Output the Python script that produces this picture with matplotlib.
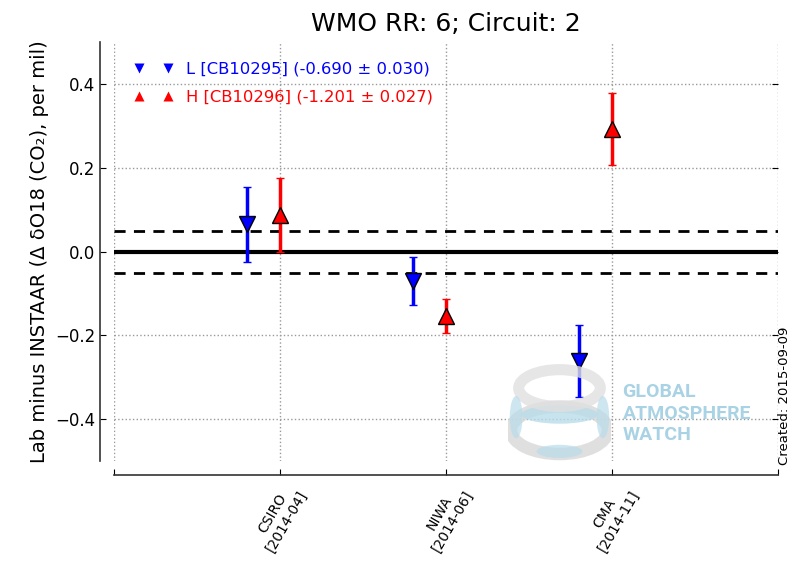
import numpy as np
import matplotlib
matplotlib.use('Agg')
import matplotlib.pyplot as plt
from matplotlib.patches import Ellipse

# lab comparison results, difference to INSTAAR (per mil)
labs = ['CSIRO\n[2014-04]', 'NIWA\n[2014-06]', 'CMA\n[2014-11]']
low_val = [0.065, -0.070, -0.260]
low_err = [0.090, 0.058, 0.086]
high_val = [0.087, -0.153, 0.293]
high_err = [0.088, 0.040, 0.085]
low_label = 'L [CB10295] (-0.690 ± 0.030)'
high_label = 'H [CB10296] (-1.201 ± 0.027)'
limit = 0.05

xpos = np.arange(1, len(labs) + 1)
xl = xpos - 0.2
xh = xpos

fig = plt.figure(figsize=(7.97, 5.70), dpi=100)
ax = fig.add_axes([0.143, 0.191, 0.833, 0.735])

ax.axhline(0, color='k', lw=3, zorder=2)
ax.axhline(limit, color='k', lw=2, ls='--', dashes=(4, 3), zorder=2)
ax.axhline(-limit, color='k', lw=2, ls='--', dashes=(4, 3), zorder=2)

ax.errorbar(xl, low_val, yerr=low_err, fmt='none', ecolor='blue', elinewidth=2.5,
            capsize=3, capthick=1, zorder=3)
ax.errorbar(xh, high_val, yerr=high_err, fmt='none', ecolor='red', elinewidth=2.5,
            capsize=3, capthick=1, zorder=3)
ax.plot(xl, low_val, 'v', color='blue', mec='k', ms=11, mew=1, ls='none',
        label=low_label, zorder=4)
ax.plot(xh, high_val, '^', color='red', mec='k', ms=11, mew=1, ls='none',
        label=high_label, zorder=4)

leg = ax.legend(loc='upper left', numpoints=2, frameon=False, fontsize=11.8,
                markerscale=0.7, handlelength=2.4, handletextpad=0.8,
                labelspacing=0.8, borderaxespad=0.7, borderpad=0.5)
for t, c in zip(leg.get_texts(), ['blue', 'red']):
    t.set_color(c)
for h in leg.legend_handles:
    h.set_markeredgecolor('none')

ax.spines['top'].set_visible(False)
ax.spines['right'].set_visible(False)
ax.spines['left'].set_position(('outward', 10))
ax.spines['bottom'].set_position(('outward', 10))
for s in ('left', 'bottom'):
    ax.spines[s].set_linewidth(1.2)
    ax.spines[s].set_color('#333333')

ax.set_xlim(0, 4)
ax.set_ylim(-0.5, 0.5)
ax.tick_params(axis='y', labelsize=12, direction='in', length=4, right=True)
ax.tick_params(axis='x', direction='in', length=4)
ax.set_yticks([-0.4, -0.2, 0.0, 0.2, 0.4])
ax.set_xticks(np.arange(0, 5))
ax.set_xticklabels([''] + labs + [''], rotation=60, fontsize=10, ha='center',
                   va='top')
ax.grid(True, ls=':', color='#999999', lw=1)

ax.set_ylabel('Lab minus INSTAAR (Δ δO18 (CO₂), per mil)', fontsize=14)
ax.set_title('WMO RR: 6; Circuit: 2', fontsize=18, pad=8)

fig.text(0.984, 0.185, 'Created: 2015-09-09', rotation=90, fontsize=9.5,
         ha='center', va='bottom')

# GAW watermark
logo = fig.add_axes([0.638, 0.185, 0.128, 0.185])
logo.set_xlim(-1, 1)
logo.set_ylim(-1, 1)
logo.axis('off')
logo.add_patch(Ellipse((0, -0.35), 1.9, 0.9, fc='none', ec='#d8d8d8', lw=9, alpha=0.8))
logo.add_patch(Ellipse((0, -0.05), 1.5, 0.35, fc='#b8dcea', ec='none', alpha=0.8))
logo.add_patch(Ellipse((0, 0.45), 1.6, 0.7, fc='none', ec='#e0e0e0', lw=8, alpha=0.8))
logo.add_patch(Ellipse((-0.85, -0.1), 0.25, 0.8, fc='#b8dcea', ec='none', alpha=0.7))
logo.add_patch(Ellipse((0.85, -0.1), 0.25, 0.8, fc='#b8dcea', ec='none', alpha=0.7))
logo.add_patch(Ellipse((0, -0.75), 0.9, 0.25, fc='#b8dcea', ec='none', alpha=0.7))
for i, word in enumerate(['GLOBAL', 'ATMOSPHERE', 'WATCH']):
    fig.text(0.781, 0.312 - i * 0.038, word, fontsize=14, fontweight='bold',
             color='#a9d3e4', ha='left', va='center', family='Roboto')

fig.savefig('out.png', dpi=100)
